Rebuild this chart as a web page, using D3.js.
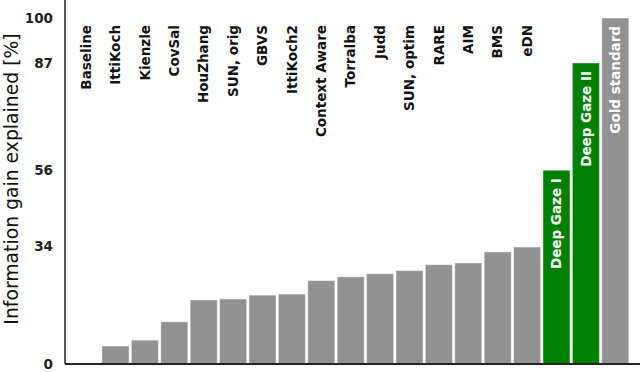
<!DOCTYPE html>
<html>
<head>
<meta charset="utf-8">
<script src="https://cdn.jsdelivr.net/npm/d3@7"></script>
<style>
  body { margin: 0; background: #fff; }
  svg { display: block; font-family: "DejaVu Sans", sans-serif; }
</style>
</head>
<body>
<div id="chart"></div>
<script>
const MODELS = ['Baseline', 'IttiKoch', 'Kienzle', 'CovSal', 'HouZhang', 'SUN, orig', 'GBVS', 'IttiKoch2',
  'Context Aware', 'Torralba', 'Judd', 'SUN, optim', 'RARE', 'AIM', 'BMS', 'eDN',
  'Deep Gaze I', 'Deep Gaze II', 'Gold standard'];
const GAIN = [0, 5.2, 6.9, 12.2, 18.5, 18.8, 19.9, 20.2, 24.1, 25.2, 26.1, 27.0, 28.7, 29.2, 32.4, 33.8, 56, 87, 100];
const HIGHLIGHT = ['Deep Gaze I', 'Deep Gaze II'];
const INSIDE_LABEL = ['Deep Gaze I', 'Deep Gaze II', 'Gold standard'];
const Y_TICKS = [0, 34, 56, 87, 100];

const W = 640, H = 372;
const axisX = 65, baseY = 364;

const svg = d3.select('#chart').append('svg').attr('width', W).attr('height', H);

const x = d3.scaleBand().domain(MODELS).range([71.4, 630]).paddingInner(0.08).paddingOuter(0.04);
const y = d3.scaleLinear().domain([0, 100]).range([baseY, 18]);

const data = MODELS.map((m, i) => ({ name: m, value: GAIN[i] }));

svg.selectAll('rect.bar').data(data).enter().append('rect')
  .attr('class', 'bar')
  .attr('x', d => x(d.name))
  .attr('y', d => y(d.value))
  .attr('width', x.bandwidth())
  .attr('height', d => baseY - y(d.value))
  .attr('fill', d => HIGHLIGHT.includes(d.name) ? '#008000' : '#929292')
  .attr('stroke', '#fff').attr('stroke-opacity', 0.45).attr('stroke-width', 1);

// rotated model names, inside the bar when the bar reaches the top
svg.selectAll('text.name').data(data).enter().append('text')
  .attr('class', 'name')
  .attr('transform', d => {
    const cx = x(d.name) + x.bandwidth() / 2;
    const top = INSIDE_LABEL.includes(d.name) ? Math.max(26, y(d.value) + 8) : 25;
    return `translate(${cx},${top}) rotate(-90)`;
  })
  .attr('text-anchor', 'end')
  .attr('dy', '0.35em')
  .attr('font-size', 13.5)
  .attr('font-weight', 'bold')
  .attr('fill', d => INSIDE_LABEL.includes(d.name) ? '#fff' : '#111')
  .text(d => d.name);

// y axis labels
const yAxis = svg.append('g').attr('transform', `translate(${axisX},0)`)
  .call(d3.axisLeft(y).tickValues(Y_TICKS).tickSize(0).tickPadding(12));
yAxis.select('.domain').remove();
yAxis.selectAll('text').attr('font-size', 13.5).attr('font-weight', 'bold')
  .attr('font-family', '"DejaVu Sans", sans-serif').attr('fill', '#222');

// spines
svg.append('line').attr('x1', axisX).attr('x2', axisX).attr('y1', 0).attr('y2', baseY)
  .attr('stroke', '#222').attr('stroke-width', 1.5);
svg.append('line').attr('x1', axisX).attr('x2', W).attr('y1', baseY).attr('y2', baseY)
  .attr('stroke', '#222').attr('stroke-width', 2);

svg.append('text')
  .attr('transform', `translate(11,179) rotate(-90)`)
  .attr('text-anchor', 'middle').attr('dy', '0.35em')
  .attr('font-size', 18.8).attr('fill', '#111')
  .text('Information gain explained [%]');
</script>
</body>
</html>
